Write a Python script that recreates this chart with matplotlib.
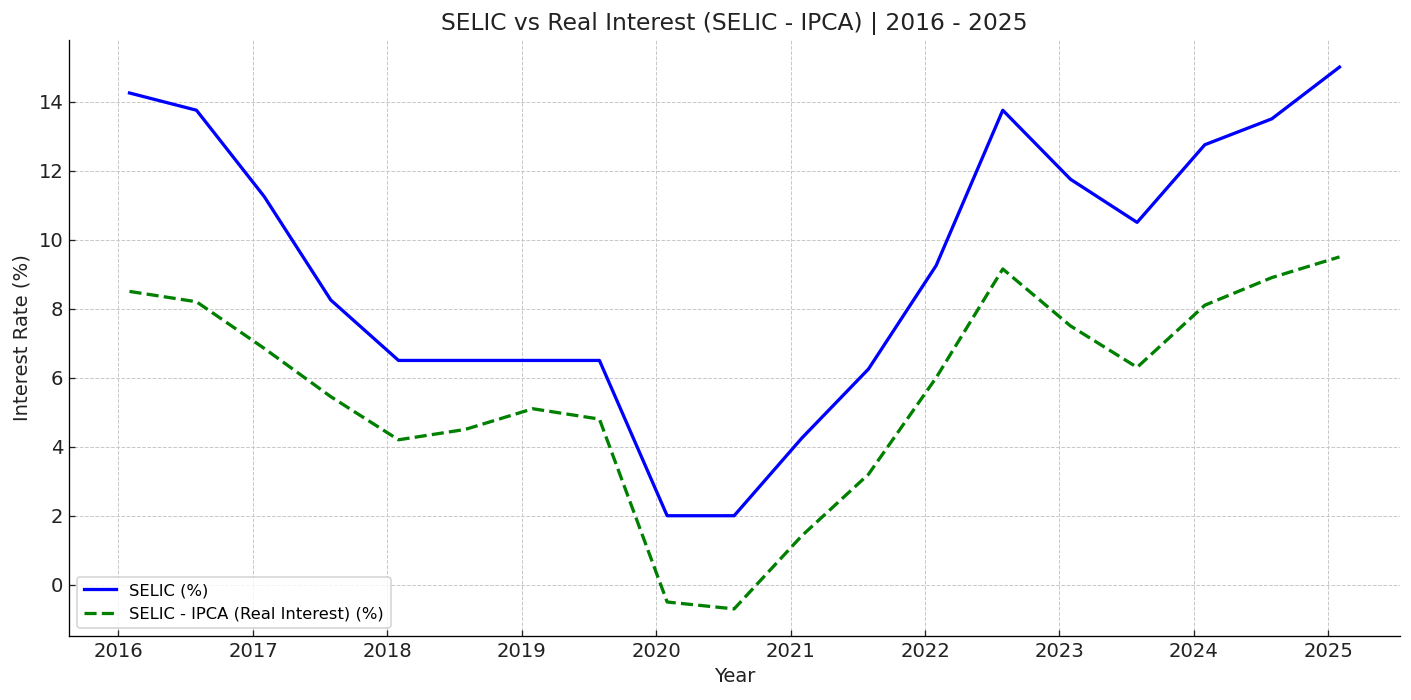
import matplotlib
matplotlib.use('Agg')
import matplotlib.pyplot as plt
import matplotlib.dates as mdates
import pandas as pd

# Semi-annual observations (month end), Jan 2016 .. Jan 2025
dates = ['2016-01-31', '2016-07-31', '2017-01-31', '2017-07-31', '2018-01-31',
         '2018-07-31', '2019-01-31', '2019-07-31', '2020-01-31', '2020-07-31',
         '2021-01-31', '2021-07-31', '2022-01-31', '2022-07-31', '2023-01-31',
         '2023-07-31', '2024-01-31', '2024-07-31', '2025-01-31']
selic = [14.25, 13.75, 11.25, 8.25, 6.5, 6.5, 6.5, 6.5, 2.0, 2.0,
         4.25, 6.25, 9.25, 13.75, 11.75, 10.5, 12.75, 13.5, 15.0]
real_interest = [8.5, 8.2, 6.85, 5.45, 4.2, 4.5, 5.1, 4.8, -0.5, -0.7,
                 1.42, 3.2, 6.0, 9.15, 7.5, 6.3, 8.1, 8.9, 9.5]

x = pd.to_datetime(dates)

dpi = 1411 / 12
fig = plt.figure(figsize=(12, 700 / dpi), dpi=dpi)
ax = fig.add_axes([69 / 1411, 1 - 636 / 700, (1400 - 69) / 1411, (636 - 40) / 700])

ax.plot(x, selic, color='blue', lw=2, label='SELIC (%)')
ax.plot(x, real_interest, color='green', lw=2, ls='--', label='SELIC - IPCA (Real Interest) (%)')

ax.set_title('SELIC vs Real Interest (SELIC - IPCA) | 2016 - 2025', fontsize=14.3, color='#222222')
ax.set_xlabel('Year', fontsize=12, color='#222222')
ax.set_ylabel('Interest Rate (%)', fontsize=12, color='#222222')

ax.xaxis.set_major_locator(mdates.YearLocator())
ax.xaxis.set_major_formatter(mdates.DateFormatter('%Y'))
ax.tick_params(direction='in', labelsize=12, colors='#222222')

ax.grid(True, ls='--', color='#c8c8c8', lw=0.6)
ax.spines['top'].set_visible(False)
ax.spines['right'].set_visible(False)

ax.legend(loc='lower left', fontsize=10)

fig.savefig('out.png', dpi=dpi)
